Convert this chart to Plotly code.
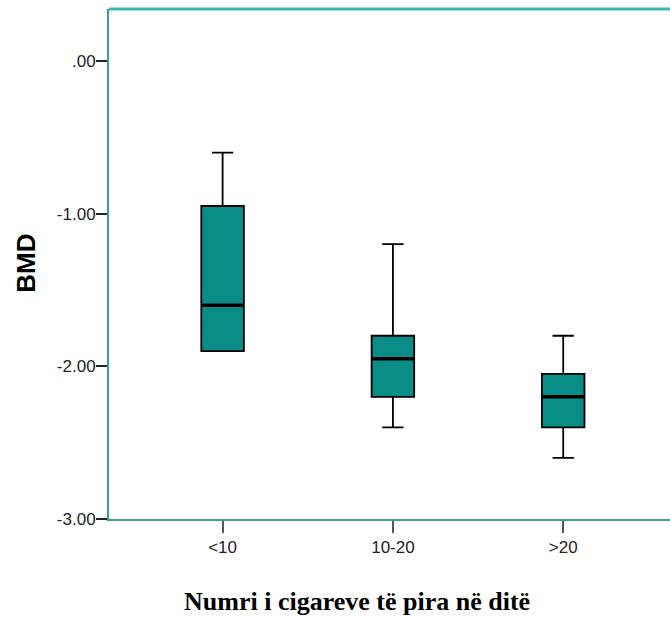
import plotly.graph_objects as go

# Box-plot summary of BMD by number of cigarettes smoked per day
groups = ["<10", "10-20", ">20"]
upper = [-0.60, -1.20, -1.80]
q3 = [-0.95, -1.80, -2.05]
median = [-1.60, -1.95, -2.20]
q1 = [-1.90, -2.20, -2.40]
lower = [-1.90, -2.40, -2.60]
y_ticks = [0.0, -1.0, -2.0, -3.0]
y_tick_text = [".00", "-1.00", "-2.00", "-3.00"]

box_w = 0.25
fill = "#0a8c87"
axis_col = "#3a9d99"

pos = list(range(len(groups)))

fig = go.Figure()
fig.add_trace(go.Box(
    x=pos, q1=q1, median=median, q3=q3,
    lowerfence=lower, upperfence=upper,
    width=box_w, whiskerwidth=0.5,
    fillcolor=fill, line=dict(color="black", width=1.8),
    boxpoints=False, showlegend=False, hoverinfo="skip",
))

# thicker median bars drawn over each box
mx, my = [], []
for p, m in zip(pos, median):
    mx += [p - box_w / 2, p + box_w / 2, None]
    my += [m, m, None]
fig.add_trace(go.Scatter(
    x=mx, y=my, mode="lines", line=dict(color="black", width=3.5),
    showlegend=False, hoverinfo="skip",
))

tick_font = dict(family="Liberation Sans, Arial", size=17, color="#222")

fig.update_layout(
    width=670, height=620,
    margin=dict(l=109, r=0, t=9, b=101),
    paper_bgcolor="white", plot_bgcolor="white",
    xaxis=dict(
        range=[-0.667, 2.627], tickmode="array", tickvals=pos, ticktext=groups,
        showgrid=False, zeroline=False,
        showline=True, linecolor=axis_col, linewidth=2, mirror=False,
        ticks="outside", ticklen=12, tickwidth=1.5, tickcolor="#555",
        tickfont=tick_font,
    ),
    yaxis=dict(
        range=[-3.0, 0.34], tickmode="array", tickvals=y_ticks, ticktext=y_tick_text,
        showgrid=False, zeroline=False,
        showline=True, linecolor=axis_col, linewidth=2,
        ticks="outside", ticklen=11, tickwidth=1.5, tickcolor="#222",
        tickfont=tick_font, ticklabelstandoff=-3,
    ),
    shapes=[dict(
        type="line", xref="paper", yref="paper", x0=0, x1=1, y0=1, y1=1,
        line=dict(color="#3bb7b3", width=3),
    )],
    annotations=[
        dict(
            text="<b>BMD</b>", textangle=-90, showarrow=False,
            xref="paper", yref="paper", x=-0.1485, y=0.502,
            xanchor="center", yanchor="middle",
            font=dict(family="Liberation Sans, Arial", size=26, color="black"),
        ),
        dict(
            text="<b>Numri i cigareve të pira në ditë</b>", showarrow=False,
            xref="paper", yref="paper", x=0.4415, y=-0.1627,
            xanchor="center", yanchor="middle",
            font=dict(family="Liberation Serif, Times New Roman", size=26, color="black"),
        ),
    ],
)

fig.write_html("out.html")
